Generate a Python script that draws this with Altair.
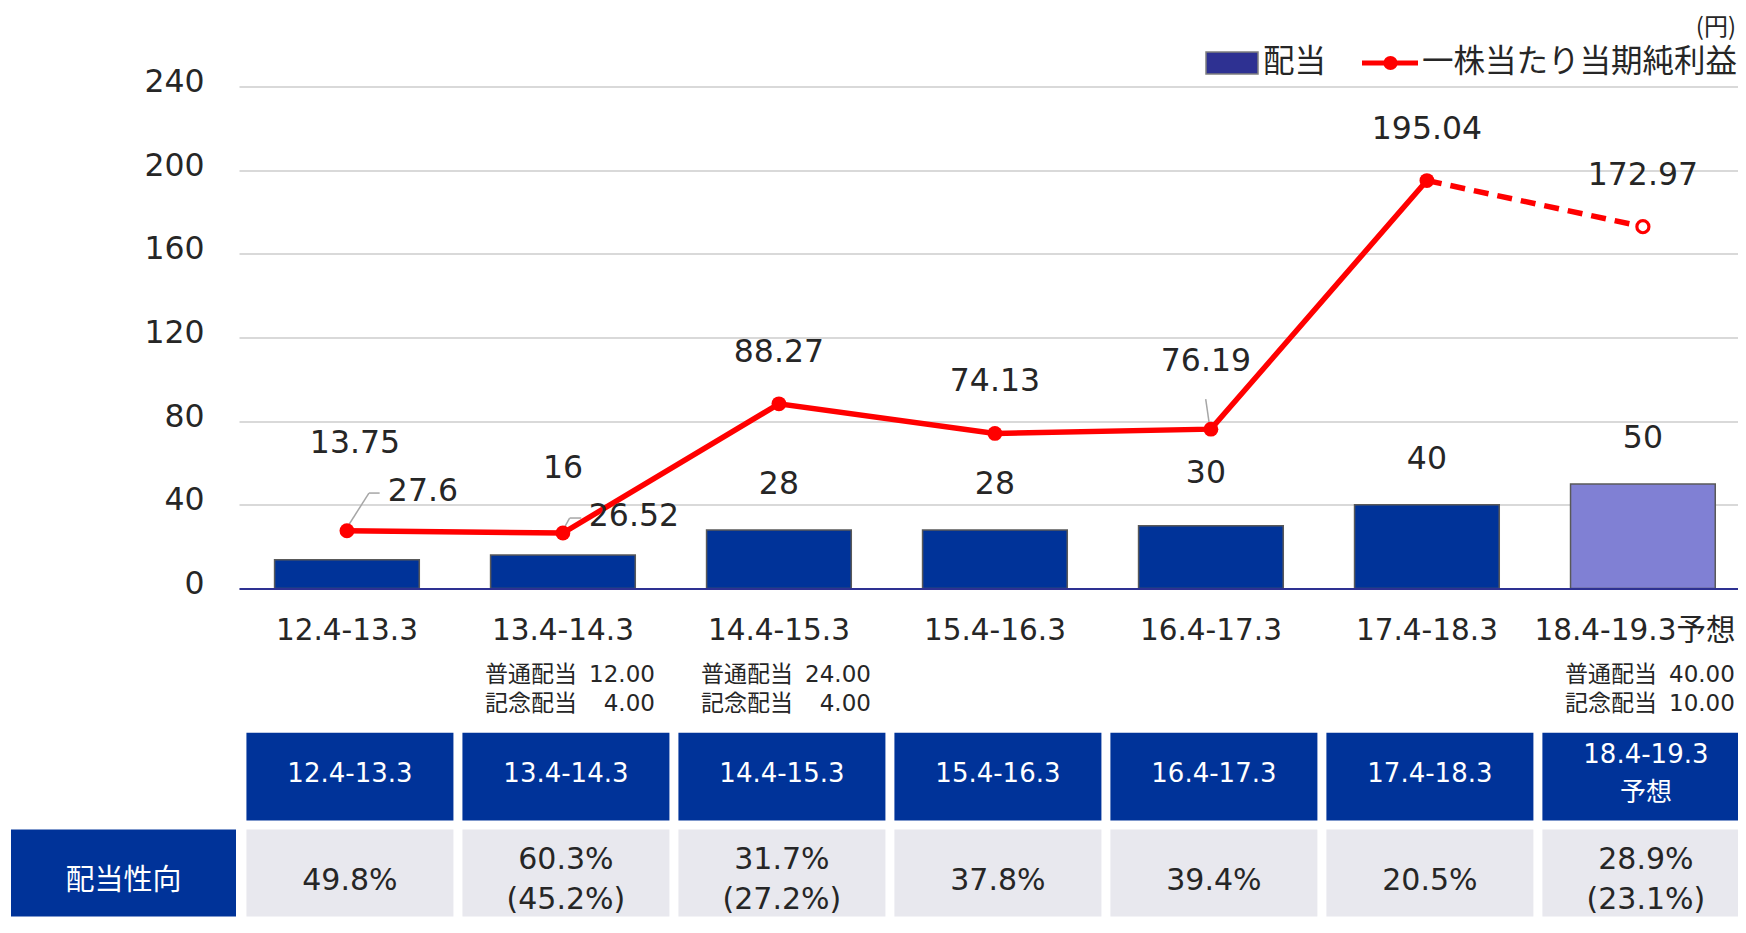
import altair as alt
import pandas as pd

# ---------------- data ----------------
categories = ["12.4-13.3", "13.4-14.3", "14.4-15.3", "15.4-16.3", "16.4-17.3", "17.4-18.3", "18.4-19.3予想"]
dividends = [13.75, 16, 28, 28, 30, 40, 50]
eps = [27.6, 26.52, 88.27, 74.13, 76.19, 195.04, 172.97]
regular_div = [None, 12.00, 24.00, None, None, None, 40.00]
commem_div = [None, 4.00, 4.00, None, None, None, 10.00]
table_headers = ["12.4-13.3", "13.4-14.3", "14.4-15.3", "15.4-16.3", "16.4-17.3", "17.4-18.3", "18.4-19.3\n予想"]
payout = ["49.8%", "60.3%", "31.7%", "37.8%", "39.4%", "20.5%", "28.9%"]
payout_excl = ["", "(45.2%)", "(27.2%)", "", "", "", "(23.1%)"]
y_ticks = [0, 40, 80, 120, 160, 200, 240]
legend_labels = ["配当", "一株当たり当期純利益"]
unit_label = "(円)"
row_label = "配当性向"
sub_prefix = ["普通配当", "記念配当"]

n = len(categories)
hdr = [h.split("\n") for h in table_headers]
df = pd.DataFrame({
    "cat": categories,
    "idx": list(range(n)),
    "div": dividends,
    "eps": eps,
    "div_label": [f"{v:g}" for v in dividends],
    "eps_label": [f"{v:g}" for v in eps],
    "h1": [h[0] for h in hdr],
    "h2": [h[1] if len(h) > 1 else "" for h in hdr],
    "p1": payout,
    "p2": payout_excl,
    "reg": [f"{v:.2f}" if v is not None else "" for v in regular_div],
    "com": [f"{v:.2f}" if v is not None else "" for v in commem_div],
})

# ---------------- styles ----------------
FONT = "'DejaVu Sans', 'Noto Sans CJK JP', sans-serif"
FONT_J = "'Noto Sans CJK JP', 'Noto Sans', sans-serif"
TXT = "#262626"
NAVY = "#003399"
FC = "#8080D4"
RED = "#FF0000"
CELL = "#E8E8EE"

W, H = 1499, 502

last_cat = categories[-1]
x_scale = alt.Scale(domain=categories, paddingInner=0.33, paddingOuter=0.135, align=0.61)
x_axis = alt.Axis(title=None, labelFont=FONT, labelFontSize=29.5, labelColor=TXT, labelPadding=41.5,
                  labelBaseline="middle", labelAngle=0, labelLimit=400, ticks=False, tickSize=0,
                  labelOffset={"condition": {"test": f"datum.value === '{last_cat}'", "value": -8}, "value": 0},
                  domainColor="#2E3192", domainWidth=2, grid=False, zindex=1)
X = alt.X("cat:N", scale=x_scale, axis=x_axis, sort=categories)

y_scale = alt.Scale(domain=[0, 240], nice=False, zero=True)
y_axis = alt.Axis(title=None, values=y_ticks, labelFont=FONT, labelFontSize=31.5, labelColor=TXT,
                  labelPadding=35, labelOffset=-4, ticks=False, tickSize=0, domain=False,
                  gridColor="#D9D9D9", gridWidth=2)

def Yq(field):
    return alt.Y(f"{field}:Q", scale=y_scale, axis=y_axis)

base = alt.Chart(df)
one = alt.Chart(pd.DataFrame({"t": [row_label]}))

def filt(chart, idxs):
    return chart.transform_filter(alt.FieldOneOfPredicate(field="idx", oneOf=idxs))

layers = []

# ---- table ----
def cell_text(chart, field, yy, size, color):
    return chart.mark_text(font=FONT, fontSize=size, color=color, baseline="middle", dx=3).encode(
        x=X, y=alt.value(yy), text=f"{field}:N")

layers.append(base.mark_bar(width=207, color=NAVY, xOffset=3).encode(
    x=X, y=alt.value(646.2), y2=alt.value(734.1)))
single_h = base.transform_filter("datum.h2 == ''")
double_h = base.transform_filter("datum.h2 != ''")
layers.append(cell_text(single_h, "h1", 687, 26, "white"))
layers.append(cell_text(double_h, "h1", 668.5, 26, "white"))
layers.append(cell_text(double_h, "h2", 706.5, 26, "white"))

layers.append(base.mark_bar(width=207, color=CELL, xOffset=3).encode(
    x=X, y=alt.value(743.1), y2=alt.value(830)))
single_p = base.transform_filter("datum.p2 == ''")
double_p = base.transform_filter("datum.p2 != ''")
layers.append(cell_text(single_p, "p1", 794, 30, TXT))
layers.append(cell_text(double_p, "p1", 773.5, 30, TXT))
layers.append(cell_text(double_p, "p2", 813, 30, TXT))

layers.append(one.mark_rect(color=NAVY).encode(
    x=alt.value(-228), x2=alt.value(-3), y=alt.value(743.1), y2=alt.value(830)))
layers.append(one.mark_text(font=FONT_J, fontSize=29, color="white", baseline="middle").encode(
    x=alt.value(-115.5), y=alt.value(794), text="t:N"))

# ---- sub labels ----
sub = base.transform_filter("datum.reg != ''")
for i, (fld, yy) in enumerate([("reg", 588.5), ("com", 617)]):
    layers.append(sub.mark_text(font=FONT_J, fontSize=23, color=TXT, align="left", baseline="middle",
                                dx=-78).encode(x=X, y=alt.value(yy), text=alt.value(sub_prefix[i])))
    layers.append(sub.mark_text(font=FONT, fontSize=23, color=TXT, align="right", baseline="middle",
                                dx=92).encode(x=X, y=alt.value(yy), text=f"{fld}:N"))

# ---- bars ----
layers.append(filt(base, [0, 1, 2, 3, 4, 5]).mark_bar(color=NAVY, stroke="#595959", strokeWidth=1.5).encode(
    x=X, y=Yq("div")))
layers.append(filt(base, [6]).mark_bar(color=FC, stroke="#595959", strokeWidth=1.5).encode(
    x=X, y=Yq("div")))

# ---- leader lines ----
LEAD = "#A6A6A6"
for idxs, a in [([0], (0, -3, 22, -37.7)), ([1], (0, -3, 6.7, -15)), ([4], (-5.2, -30, -1, -1))]:
    layers.append(filt(base, idxs).mark_rule(color=LEAD, strokeWidth=1.5, xOffset=a[0], yOffset=a[1],
                                             x2Offset=a[2], y2Offset=a[3]).encode(
        x=X, y=Yq("eps"), x2="cat:N", y2="eps:Q"))
for idxs, a in [([0], (22, -37.7, 32.7)), ([1], (6.7, -15, 18.3))]:
    layers.append(filt(base, idxs).mark_rule(color=LEAD, strokeWidth=1.5, xOffset=a[0], yOffset=a[1],
                                             x2Offset=a[2], y2Offset=a[1]).encode(
        x=X, y=Yq("eps"), x2="cat:N", y2="eps:Q"))

# ---- line ----
layers.append(filt(base, [0, 1, 2, 3, 4, 5]).mark_line(color=RED, strokeWidth=5.5).encode(
    x=X, y=Yq("eps")))
layers.append(filt(base, [5, 6]).mark_line(color=RED, strokeWidth=5.5, strokeDash=[15, 9]).encode(
    x=X, y=Yq("eps")))
layers.append(filt(base, [0, 1, 2, 3, 4, 5]).mark_circle(color=RED, size=220, opacity=1).encode(
    x=X, y=Yq("eps")))
layers.append(filt(base, [6]).mark_point(shape="circle", filled=True, fill="white", stroke=RED,
                                         strokeWidth=3.2, size=145, opacity=1).encode(
    x=X, y=Yq("eps")))

# ---- value labels ----
def lab(fy, ft, idxs, dx, dy):
    return filt(base, idxs).mark_text(font=FONT, fontSize=31.5, color=TXT, baseline="middle",
                                      dx=dx, dy=dy).encode(x=X, y=Yq(fy), text=f"{ft}:N")

layers += [
    lab("div", "div_label", [2, 3, 5, 6], 0, -45),
    lab("div", "div_label", [0], 8, -116),
    lab("div", "div_label", [1], 0, -86),
    lab("div", "div_label", [4], -5, -52),
    lab("eps", "eps_label", [2, 3, 5, 6], 0, -51),
    lab("eps", "eps_label", [4], -5, -67),
    lab("eps", "eps_label", [0], 76, -39),
    lab("eps", "eps_label", [1], 71, -16),
]

# ---- legend ----
layers.append(one.mark_rect(color="#2E3192", stroke="#7F7F7F", strokeWidth=1.5).encode(
    x=alt.value(967), x2=alt.value(1019), y=alt.value(-34.5), y2=alt.value(-12.5)))
layers.append(one.mark_text(font=FONT_J, fontSize=31.5, color=TXT, align="left", baseline="middle").encode(
    x=alt.value(1024), y=alt.value(-23.5), text=alt.value(legend_labels[0])))
layers.append(one.mark_rule(color=RED, strokeWidth=5).encode(
    x=alt.value(1123), x2=alt.value(1179), y=alt.value(-23.5)))
layers.append(one.mark_circle(color=RED, size=200, opacity=1).encode(
    x=alt.value(1151.5), y=alt.value(-23.5)))
layers.append(one.mark_text(font=FONT_J, fontSize=31.5, color=TXT, align="left", baseline="middle").encode(
    x=alt.value(1183), y=alt.value(-23.5), text=alt.value(legend_labels[1])))
layers.append(one.mark_text(font=FONT_J, fontSize=24, color=TXT, align="right", baseline="middle").encode(
    x=alt.value(1497), y=alt.value(-59), text=alt.value(unit_label)))

chart = alt.layer(*layers).properties(
    width=W, height=H,
    autosize=alt.AutoSizeParams(type="none"),
    padding={"left": 231, "top": 78.5, "right": 0, "bottom": 328.5},
    background="white",
).configure_view(stroke=None)

chart.save("out.html", embed_options={"renderer": "svg", "actions": False})
